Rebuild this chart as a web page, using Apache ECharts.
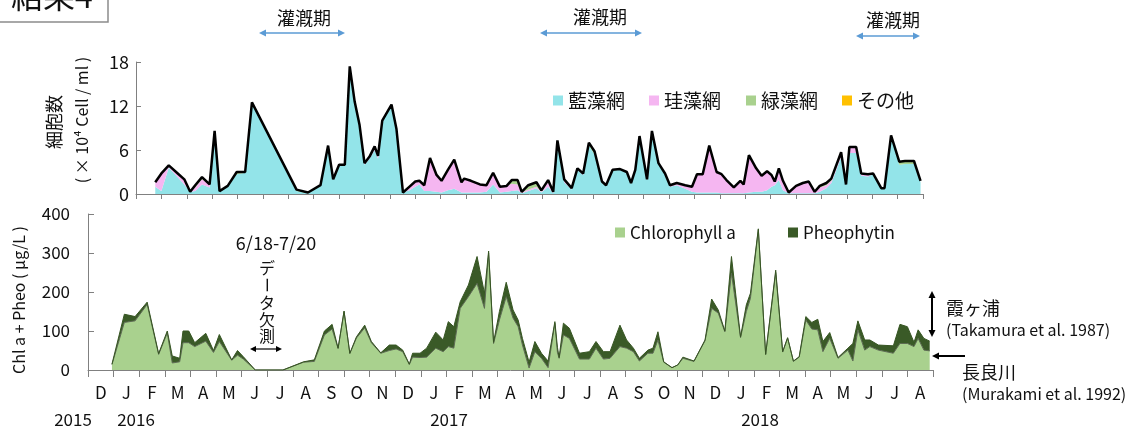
<!DOCTYPE html>
<html><head><meta charset="utf-8">
<script src="https://cdn.jsdelivr.net/npm/echarts@6/dist/echarts.min.js"></script>
<style>html,body{margin:0;padding:0;background:#fff}#c{width:1143px;height:432px}</style>
</head><body><div id="c"></div>
<script>
// ---- Top panel: cell counts (x10^4 cells/ml) ----
const cellDates = ['2016-02-23','2016-03-01','2016-03-10','2016-03-21','2016-03-29','2016-04-05','2016-04-11','2016-04-19','2016-04-28','2016-05-04',
'2016-05-10','2016-05-20','2016-05-31','2016-06-10','2016-06-18','2016-08-11','2016-08-25','2016-09-09','2016-09-18','2016-09-24',
'2016-10-01','2016-10-08','2016-10-14','2016-10-20','2016-10-26','2016-11-01','2016-11-07','2016-11-13','2016-11-17','2016-11-22',
'2016-12-03','2016-12-09','2016-12-17','2016-12-25','2017-01-01','2017-01-06','2017-01-12','2017-01-19','2017-01-27','2017-02-02',
'2017-02-09','2017-02-16','2017-02-24','2017-02-27','2017-03-07','2017-03-18','2017-03-26','2017-04-03','2017-04-11','2017-04-19',
'2017-04-25','2017-05-02','2017-05-07','2017-05-15','2017-05-25','2017-05-31','2017-06-08','2017-06-14','2017-06-19','2017-06-27',
'2017-07-06','2017-07-13','2017-07-20','2017-07-27','2017-08-03','2017-08-12','2017-08-17','2017-08-25','2017-09-03','2017-09-11',
'2017-09-16','2017-09-21','2017-09-26','2017-10-05','2017-10-11','2017-10-19','2017-10-27','2017-11-02','2017-11-10','2017-11-20',
'2017-11-28','2017-12-04','2017-12-11','2017-12-19','2017-12-28','2018-01-03','2018-01-09','2018-01-18','2018-01-26','2018-01-30',
'2018-02-05','2018-02-13','2018-02-19','2018-02-25','2018-03-02','2018-03-06','2018-03-11','2018-03-16','2018-03-23','2018-04-01',
'2018-04-09','2018-04-16','2018-04-23','2018-04-29','2018-05-07','2018-05-13','2018-05-25','2018-05-31','2018-06-04','2018-06-12',
'2018-06-18','2018-06-26','2018-07-02','2018-07-12','2018-07-16','2018-07-24','2018-08-03','2018-08-10','2018-08-21','2018-08-29'];
const cyano = [1.0,0.4,3.6,2.3,1.3,0.3,0.4,1.3,0.9,8.6,
0.4,1.0,2.7,2.9,12.5,0.4,0.1,1.1,6.6,2.0,
4.0,4.0,17.4,12.6,9.4,4.0,4.8,6.0,4.8,9.8,
12.2,8.9,0.2,0.5,1.0,1.3,0.4,0.4,0.3,0.2,
0.5,0.7,0.2,0.2,0.2,0.2,0.3,1.3,0.2,0.3,
0.4,0.5,0.1,0.4,0.8,0.2,1.0,0.1,7.1,1.6,
0.6,3.3,2.6,6.6,5.4,1.5,1.1,3.2,3.3,2.9,
1.4,3.2,7.8,1.9,8.5,4.1,2.7,1.0,1.2,0.7,
0.3,0.2,0.2,0.2,0.2,0.1,0.1,0.1,0.1,0.1,
0.2,0.3,0.3,0.5,1.0,1.2,1.9,0.5,0.1,0.1,
0.1,0.1,0.1,0.3,0.8,1.5,5.0,1.2,5.6,5.6,
2.5,2.4,2.7,0.8,0.8,7.8,4.0,4.1,4.1,1.6];
const diatom = [0.6,2.4,0.3,0.5,0.7,0,0.5,0.7,0.4,0,
0,0,0,0,0,0,0,0,0,0,
0,0,0,0,0,0.2,0.3,0.5,0.4,0.2,
0,0,0,0.5,0.7,0.5,0.8,4.5,2.3,1.6,
2.8,4.0,1.4,1.9,1.6,1.1,0.9,1.6,0.8,0.8,
1.0,0.8,0.1,0.2,0.2,0.1,0.6,0.2,0.2,0.4,
0.2,0.2,0.2,0,0,0,0,0,0,0,
0,0,0.1,0.1,0.1,0.1,0.1,0.2,0.3,0.5,
0.7,2.5,2.5,6.4,2.8,2.6,1.8,0.8,1.7,1.2,
5.1,3.2,2.2,2.6,1.6,0.5,1.6,1.3,0.1,1.0,
1.4,1.6,0.2,0.6,0.4,0.3,0.4,0.1,0.8,0.8,
0.3,0.3,0.1,0,0,0,0,0,0,0];
const greenAlgae = [0,0,0,0,0,0,0.3,0.3,0,0,
0,0.1,0.3,0.1,0,0.2,0.1,0.1,0,0,
0,0,0,0,0,0,0,0,0,0,
0,0,0,0,0,0,0,0,0,0,
0,0,0,0,0,0,0,0,0,0,
0.5,0.6,0.1,0.6,0.6,0.2,0.3,0,0,0,
0,0,0,0.4,0.4,0.2,0.1,0.1,0.1,0.1,
0.1,0.1,0,0,0,0,0,0,0,0,
0,0,0,0,0,0,0,0,0,0,
0,0,0,0,0,0,0,0,0,0,
0,0,0,0.2,0.3,0.3,0.3,0,0,0,
0,0,0,0,0,0.2,0.4,0.4,0.4,0.2];
const others = [0,0,0,0,0,0,0,0,0,0, 0,0,0,0,0,0,0,0,0,0, 0,0,0,0,0,0,0,0,0,0, 0,0,0,0,0,0,0,0,0,0,
0,0,0,0,0,0,0,0,0,0, 0,0,0,0,0,0,0,0,0,0, 0,0,0,0,0,0,0,0,0,0, 0,0,0,0,0,0,0,0,0,0,
0,0,0,0,0,0,0,0,0,0, 0,0,0,0,0,0,0,0,0,0, 0,0,0,0,0,0,0,0,0,0, 0,0,0,0,0,0,0,0,0,0];

// ---- Bottom panel: pigments (ug/L) ----
const pigDates = ['2015-12-30','2016-01-14','2016-01-27','2016-02-10','2016-02-23','2016-03-04','2016-03-10','2016-03-19','2016-03-23','2016-03-30',
'2016-04-06','2016-04-19','2016-04-28','2016-05-05','2016-05-20','2016-05-27','2016-06-03','2016-06-17','2016-07-20','2016-08-14',
'2016-08-27','2016-09-08','2016-09-17','2016-09-24','2016-10-01','2016-10-08','2016-10-16','2016-10-26','2016-11-03','2016-11-14',
'2016-11-24','2016-12-02','2016-12-10','2016-12-18','2016-12-22','2016-12-31','2017-01-08','2017-01-19','2017-01-28','2017-02-03',
'2017-02-09','2017-02-16','2017-02-25','2017-03-07','2017-03-16','2017-03-21','2017-03-27','2017-04-03','2017-04-11','2017-04-19',
'2017-04-25','2017-04-30','2017-05-08','2017-05-15','2017-05-23','2017-05-31','2017-06-08','2017-06-11','2017-06-13','2017-06-18',
'2017-06-25','2017-07-07','2017-07-19','2017-07-27','2017-08-05','2017-08-13','2017-08-25','2017-09-02','2017-09-10','2017-09-17',
'2017-09-27','2017-10-03','2017-10-09','2017-10-16','2017-10-26','2017-11-02','2017-11-08','2017-11-21','2017-12-04','2017-12-12',
'2017-12-20','2017-12-28','2018-01-05','2018-01-16','2018-01-23','2018-01-28','2018-02-06','2018-02-14','2018-02-25','2018-03-05',
'2018-03-11','2018-03-18','2018-03-25','2018-04-02','2018-04-09','2018-04-16','2018-04-22','2018-04-30','2018-05-10','2018-05-22',
'2018-05-28','2018-06-03','2018-06-11','2018-06-17','2018-06-27','2018-07-15','2018-07-23','2018-08-01','2018-08-09','2018-08-14',
'2018-08-21','2018-08-28'];
const chlA = [14,122,126,168,40,95,18,21,70,70,
60,74,45,73,25,38,28,0,0,20,
22,90,105,55,150,42,82,108,70,43,
50,54,47,14,33,32,33,56,47,60,
56,158,188,222,158,300,68,128,188,133,
111,64,5,47,30,6,120,45,30,90,
81,28,28,56,28,30,60,56,47,23,
43,43,77,20,6,13,30,22,75,158,
146,98,248,83,150,184,360,40,250,46,
82,22,33,128,105,103,47,81,30,51,
23,103,51,60,51,43,68,68,60,81,
51,49];
const pheo = [1,21,11,6,2,5,18,9,30,30,
10,20,5,18,1,12,6,0,0,1,
4,10,12,1,1,1,3,7,3,1,
14,10,4,1,10,11,23,41,30,64,
55,17,30,69,39,5,3,22,37,21,
17,17,15,26,13,17,4,13,2,30,
26,15,19,17,19,17,55,21,9,7,
8,13,21,1,0,0,3,1,2,24,
8,2,43,2,17,13,2,0,6,1,
1,1,1,9,17,27,26,15,2,5,
45,23,26,17,13,19,49,43,11,22,
30,25];

// ---- Axis labels ----
const monthLabels = ['D','J','F','M','A','M','J','J','A','S','O','N','D','J','F','M','A','M','J','J','A','S','O','N','D','J','F','M','A','M','J','J','A'];
const yearLabels = ['2015','2016','2017','2018'];
const cellTicks = [0, 18, 6];
const pigTicks = [0, 400, 100];

const FONT = "'Noto Sans CJK JP', 'Noto Sans', sans-serif";
// months since 2015-12-01
function toMonth(s){const [y,m,d]=s.split('-').map(Number);const dim=new Date(y,m,0).getDate();return (y-2015)*12+m-12+(d-1)/dim;}
const cellX = cellDates.map(toMonth);
const pigX = pigDates.map(toMonth);
// value first, time second (encode maps x to dim 1) so that stacking happens on the value
const pairs = (xs, ys) => xs.map((x,i)=>[ys[i], x]);
const ENC = {x:1, y:0};

function head(x,y,a,s,c){
  return {type:'polygon',silent:true,shape:{points:[[x,y],[x-s*Math.cos(a)+s*0.5*Math.sin(a),y-s*Math.sin(a)-s*0.5*Math.cos(a)],[x-s*Math.cos(a)-s*0.5*Math.sin(a),y-s*Math.sin(a)+s*0.5*Math.cos(a)]]},style:{fill:c}};
}
function arrow(x1,y1,x2,y2,c,w,s,both){
  const a=Math.atan2(y2-y1,x2-x1);
  const out=[{type:'line',silent:true,shape:{x1:both?x1+s*0.8*Math.cos(a):x1,y1:both?y1+s*0.8*Math.sin(a):y1,x2:x2-s*0.8*Math.cos(a),y2:y2-s*0.8*Math.sin(a)},style:{stroke:c,lineWidth:w}},head(x2,y2,a,s,c)];
  if(both) out.push(head(x1,y1,a+Math.PI,s,c));
  return out;
}
function txt(text,x,y,size,opt,align){
  return Object.assign({type:'text',silent:true,x:x,y:y,style:{text:text,fill:'#111',fontSize:size,fontFamily:FONT,textAlign:align||'center',textVerticalAlign:'middle'}},opt||{});
}

const BLUE='#5B9BD5';
let graphics = [
  {type:'rect',silent:true,shape:{x:-5,y:-30,width:113,height:52},style:{fill:'#fff',stroke:'#8c8c8c',lineWidth:1.5}},
  txt('結果4',52,-4,32),
  txt('灌漑期',304,18,18), txt('灌漑期',600,17,18), txt('灌漑期',893,20,18),
  ...arrow(259,33,345,33,BLUE,1.5,7,true),
  ...arrow(540,33,642,33,BLUE,1.5,7,true),
  ...arrow(856,36,920,36,BLUE,1.5,7,true),
  txt('細胞数',54,122,18,{rotation:Math.PI/2}),
  txt('( × 10⁴ Cell / ml )',82,120,16,{rotation:Math.PI/2}),
  txt('Chl a + Pheo ( μg/L )',19,300,16,{rotation:Math.PI/2}),
  txt('6/18-7/20',276,243,18),
  txt('デ',267,268,16), txt('ー',267,285,16,{rotation:-Math.PI/2}), txt('タ',267,303,16), txt('欠',267,320,16), txt('測',267,336,16),
  ...arrow(250,349,282,349,'#000',1.2,6,true),
  ...arrow(932,291,932,337,'#000',2,7,true),
  ...arrow(965,356,932,356,'#000',2,7,false),
  txt('霞ヶ浦',946,308,18,null,'left'),
  txt('(Takamura et al. 1987)',946,330,16,null,'left'),
  txt('長良川',962,372,18,null,'left'),
  txt('(Murakami et al. 1992)',962,394,16,null,'left'),
  txt(yearLabels[0],73,420,17), txt(yearLabels[1],136,420,17), txt(yearLabels[2],449,420,17), txt(yearLabels[3],760,420,17)
];

const AX = '#808080';
const legendBase = (name,left,top,size)=>({data:[name],left:left,top:top,icon:'rect',itemWidth:10,itemHeight:10,itemGap:0,selectedMode:false,textStyle:{fontSize:size,color:'#111',fontFamily:FONT},itemStyle:{borderWidth:0}});
const area = (name,xi,stack,data,color,line)=>({name:name,type:'line',xAxisIndex:xi,yAxisIndex:xi===0?0:1,stack:stack,data:data,encode:ENC,showSymbol:false,
  lineStyle:line||{opacity:0},itemStyle:{color:color},areaStyle:{color:color,opacity:1}});

const option = {
  animation:false,
  textStyle:{fontFamily:FONT},
  grid:[{left:136,right:220,top:62,height:132},{left:88,right:210,top:214,height:156}],
  legend:[
    legendBase('藍藻網',548,86,19), legendBase('珪藻網',644,86,19), legendBase('緑藻網',741,86,19), legendBase('その他',837,86,19),
    legendBase('Chlorophyll a',610,219,17), legendBase('Pheophytin',783,219,17)
  ],
  xAxis:[
    {gridIndex:0,type:'value',min:2,max:33,interval:1,axisLine:{show:true,onZero:false,lineStyle:{color:AX}},axisTick:{show:true,length:5,lineStyle:{color:AX}},axisLabel:{show:false},splitLine:{show:false}},
    {gridIndex:1,type:'value',min:0,max:33,interval:1,show:false},
    {gridIndex:1,type:'category',data:monthLabels,boundaryGap:true,position:'bottom',axisLine:{show:true,lineStyle:{color:AX}},axisTick:{show:true,interval:0,length:7,lineStyle:{color:AX}},axisLabel:{interval:0,fontSize:17,color:'#111',margin:14,fontFamily:FONT},splitLine:{show:false}}
  ],
  yAxis:[
    {gridIndex:0,type:'value',min:cellTicks[0],max:cellTicks[1],interval:cellTicks[2],axisLine:{show:true,lineStyle:{color:AX}},axisTick:{show:true,inside:true,length:5,lineStyle:{color:AX}},axisLabel:{fontSize:18,color:'#111',margin:7,fontFamily:FONT},splitLine:{show:false}},
    {gridIndex:1,type:'value',min:pigTicks[0],max:pigTicks[1],interval:pigTicks[2],axisLine:{show:true,lineStyle:{color:AX}},axisTick:{show:true,inside:true,length:6,lineStyle:{color:AX}},axisLabel:{fontSize:17,color:'#111',margin:18,fontFamily:FONT},splitLine:{show:false}}
  ],
  series:[
    area('藍藻網',0,'cell',pairs(cellX,cyano),'#93E4E9'),
    area('珪藻網',0,'cell',pairs(cellX,diatom),'#F5B6F1'),
    area('緑藻網',0,'cell',pairs(cellX,greenAlgae),'#A9D18E'),
    Object.assign(area('その他',0,'cell',pairs(cellX,others),'#FFC000',{color:'#000',width:2.5}),{z:3}),
    area('Chlorophyll a',1,'pig',pairs(pigX,chlA),'#A9D18E',{color:'#5d6b53',width:1}),
    area('Pheophytin',1,'pig',pairs(pigX,pheo),'#3A5A27',{color:'#375623',width:1})
  ],
  graphic:graphics
};
const chart = echarts.init(document.getElementById('c'),null,{renderer:'canvas'});
chart.setOption(option);
</script></body></html>
